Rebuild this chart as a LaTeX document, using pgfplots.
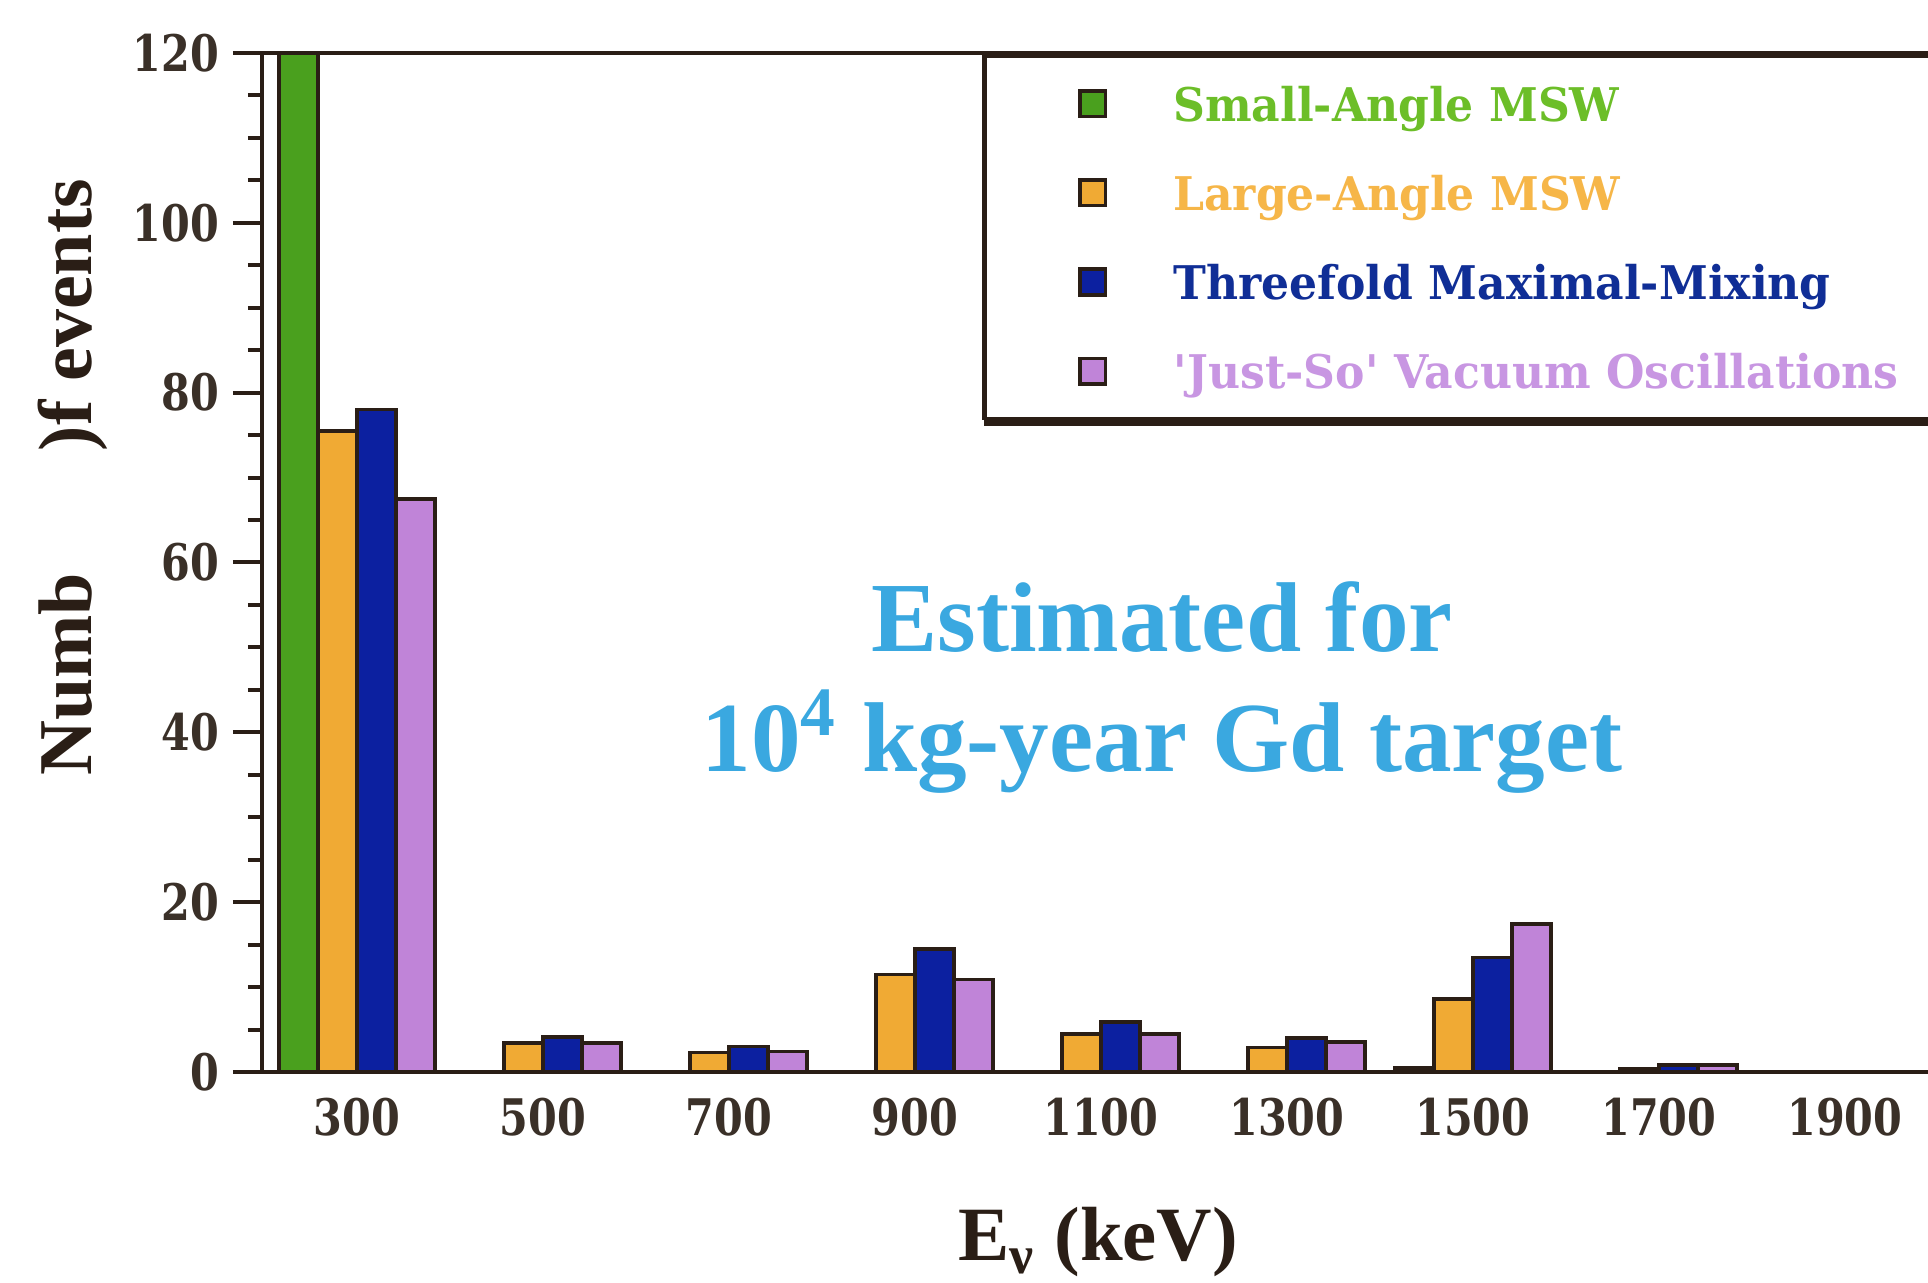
\documentclass[border=0pt]{standalone}
\usepackage{fontspec}
\setmainfont{Liberation Serif}
\newfontfamily\tickfont{DejaVu Serif}[FakeStretch=0.82]
\newfontfamily\legfont{DejaVu Serif}[FakeStretch=0.95]
\usepackage{pgfplots}
\pgfplotsset{compat=1.18}

% bar fills
\definecolor{sagreen}{RGB}{74,160,30}
\definecolor{laorange}{RGB}{240,170,52}
\definecolor{tmblue}{RGB}{12,32,160}
\definecolor{jspurple}{RGB}{192,132,216}
% legend text colours
\definecolor{sagreentxt}{RGB}{108,190,40}
\definecolor{laorangetxt}{RGB}{246,182,72}
\definecolor{tmbluetxt}{RGB}{16,46,150}
\definecolor{jspurpletxt}{RGB}{200,150,226}
% lines and text
\definecolor{framedark}{RGB}{42,30,22}
\definecolor{ticktext}{RGB}{58,48,40}
\definecolor{annot}{RGB}{58,168,224}

\begin{document}
\begin{tikzpicture}
\begin{axis}[
  scale only axis,
  width=420pt, height=254.75pt,
  xmin=198, xmax=2004.5,
  ymin=0, ymax=120,
  enlargelimits=false,
  ybar, bar width=42,
  axis line style={line width=1.1pt, draw=framedark},
  xtick={300,500,...,1900},
  ytick={0,20,...,120},
  minor y tick num=3,
  xtick pos=bottom, ytick pos=left,
  tick align=outside,
  major tick length=7.25pt, minor tick length=3.5pt,
  tick style={line width=1pt, draw=framedark},
  xtick style={draw=none},
  /pgf/number format/assume math mode=true,
  /pgf/number format/1000 sep={},
  tick label style={font=\tickfont\bfseries\fontsize{12.6}{14}\selectfont, text=ticktext},
  xticklabel style={yshift=4.2pt},
  every axis plot/.append style={draw=framedark, line width=0.9pt},
  legend cell align=left,
  legend image code/.code={
    \path[fill=none, draw=none] (-23.6pt,-11.15pt) rectangle (21.3pt,11.15pt);
    \draw[#1,/tikz/.cd,line width=0.9pt,draw=framedark] (0pt,-3.2pt) rectangle (6.4pt,3.2pt);
  },
  legend style={
    name=legbox,
    at={(0.4298,0.998)}, anchor=north west,
    draw=framedark, line width=0.8pt, fill=white,
    inner xsep=0pt, inner ysep=0.6pt,
    row sep=0pt,
    font=\legfont\bfseries\fontsize{11.6}{13.5}\selectfont,
    nodes={inner sep=2pt, text depth=0pt},
  },
]
% Small-Angle MSW
\addplot[fill=sagreen, bar shift=-63] coordinates {
  (300,120) (1500,0.45)
};
\addlegendentry{\textcolor{sagreentxt}{Small-Angle MSW}}
% Large-Angle MSW
\addplot[fill=laorange, bar shift=-21] coordinates {
  (300,75.5) (500,3.4) (700,2.3) (900,11.5) (1100,4.5) (1300,2.9) (1500,8.6) (1700,0.4)
};
\addlegendentry{\textcolor{laorangetxt}{Large-Angle MSW}}
% Threefold Maximal-Mixing
\addplot[fill=tmblue, bar shift=21] coordinates {
  (300,78) (500,4.1) (700,3.0) (900,14.5) (1100,5.9) (1300,4.0) (1500,13.5) (1700,0.85)
};
\addlegendentry{\textcolor{tmbluetxt}{Threefold Maximal-Mixing}}
% 'Just-So' vacuum oscillations
\addplot[fill=jspurple, bar shift=63] coordinates {
  (300,67.5) (500,3.4) (700,2.4) (900,10.9) (1100,4.5) (1300,3.5) (1500,17.4) (1700,0.85)
};
\addlegendentry{\textcolor{jspurpletxt}{\textquotesingle Just-So\textquotesingle{} Vacuum Oscillations\hspace{22pt}}}
\end{axis}

% heavier bottom and left edges of the legend frame
\draw[framedark, line width=2pt] ([yshift=-0.6pt]legbox.south west) -- ([yshift=-0.6pt]legbox.south east);
\draw[framedark, line width=1.3pt] ([xshift=0.2pt]legbox.south west) -- ([xshift=0.2pt]legbox.north west);

% annotation and axis titles
\node[anchor=base, text=annot, font=\bfseries\fontsize{24.8}{30}\selectfont] at (225pt,105pt) {Estimated for};
\node[anchor=base, text=annot, font=\bfseries\fontsize{24.8}{30}\selectfont] at (225pt,75pt) {10\textsuperscript{4} kg-year Gd target};
\node[anchor=base, text=framedark, font=\bfseries\fontsize{19.2}{23}\selectfont] at (209pt,-47.25pt) {E\textsubscript{ν} (keV)};
\node[anchor=base west, rotate=90, text=framedark, font=\bfseries\fontsize{19}{23}\selectfont] at (-42.5pt,70.5pt) {Numb\hspace{30.5pt})f events};

\pgfresetboundingbox
\useasboundingbox (-65.5pt,-52.75pt) rectangle (416.5pt,268pt);
\end{tikzpicture}
\end{document}
